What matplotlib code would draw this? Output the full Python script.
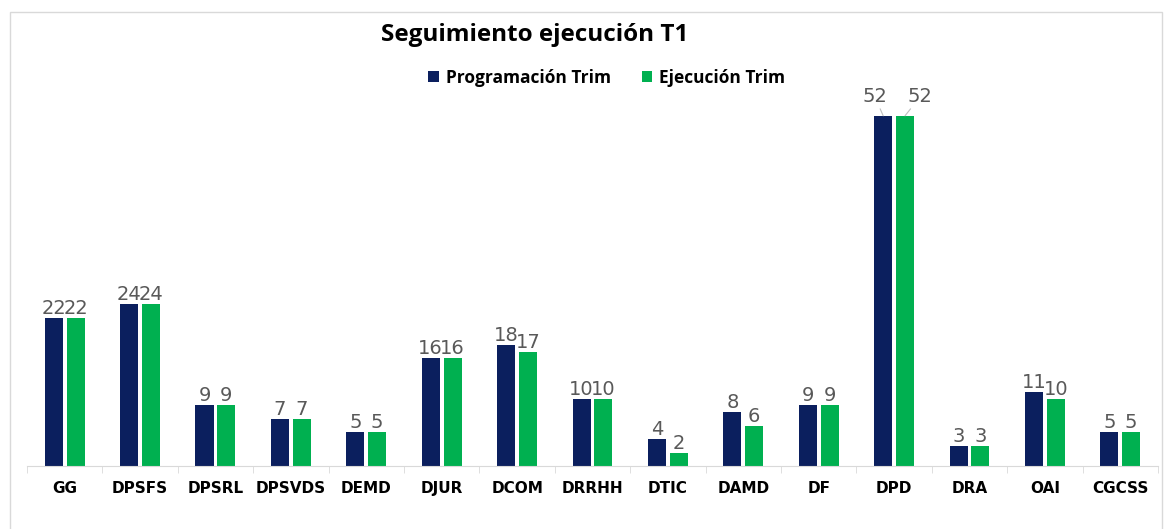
import numpy as np
import matplotlib.pyplot as plt
from matplotlib.patches import Rectangle

categories = ['GG', 'DPSFS', 'DPSRL', 'DPSVDS', 'DEMD', 'DJUR', 'DCOM', 'DRRHH',
              'DTIC', 'DAMD', 'DF', 'DPD', 'DRA', 'OAI', 'CGCSS']
programacion = [22, 24, 9, 7, 5, 16, 18, 10, 4, 8, 9, 52, 3, 11, 5]
ejecucion = [22, 24, 9, 7, 5, 16, 17, 10, 2, 6, 9, 52, 3, 10, 5]

navy = '#0b1f5e'
green = '#00b050'
label_gray = '#595959'

plt.rcParams['font.family'] = ['Open Sans', 'DejaVu Sans']

fig = plt.figure(figsize=(11.67, 5.29), dpi=100)
ax = fig.add_axes([0.0231, 0.119, 0.9692, 0.764])

# thin frame around the chart area
fig.patches.append(Rectangle((10 / 1167, -0.1), 1152 / 1167, 1.1 - 12 / 529,
                             transform=fig.transFigure, fill=False,
                             edgecolor='#d9d9d9', linewidth=1))

x = np.arange(len(categories))
w = 0.24
off = 0.145
b1 = ax.bar(x - off, programacion, w, color=navy, label='Programación Trim')
b2 = ax.bar(x + off, ejecucion, w, color=green, label='Ejecución Trim')

# value labels
for bars in (b1, b2):
    for rect in bars:
        h = rect.get_height()
        cx = rect.get_x() + rect.get_width() / 2
        if h >= 50:
            continue
        ax.annotate(f'{h:g}', (cx, h), xytext=(0, 0), textcoords='offset points',
                    ha='center', va='bottom', fontsize=14, color=label_gray,
                    family='DejaVu Sans')

# the tall DPD bars get labels pulled out with leader lines
i = categories.index('DPD')
for val, cx, dx in ((programacion[i], i - off, -6), (ejecucion[i], i + off, 11)):
    ax.annotate(f'{val:g}', (cx, val), xytext=(dx, 7), textcoords='offset points',
                ha='center', va='bottom', fontsize=14, color=label_gray,
                family='DejaVu Sans',
                arrowprops=dict(arrowstyle='-', color='#bfbfbf', lw=0.8,
                                shrinkA=0, shrinkB=0))

ax.set_xlim(-0.5, len(categories) - 0.5)
ax.set_ylim(0, 60)
ax.set_yticks([])
ax.set_xticks(x)
ax.set_xticklabels(categories, fontsize=11, fontweight='bold', family='DejaVu Sans')
ax.set_xticks(np.arange(-0.5, len(categories)), minor=True)
ax.tick_params(axis='x', which='major', length=0, pad=11)
ax.tick_params(axis='x', which='minor', length=5, color='#d9d9d9')
for s in ('top', 'right', 'left'):
    ax.spines[s].set_visible(False)
ax.spines['bottom'].set_color('#d9d9d9')

fig.text(0.458, 0.934, 'Seguimiento ejecución T1', ha='center', va='center',
         fontsize=17.5, fontweight='bold')

fig.legend(loc='center', bbox_to_anchor=(0.52, 0.853), ncol=2, frameon=False,
           prop={'weight': 'bold', 'size': 12.5}, handlelength=0.6, handleheight=0.6,
           columnspacing=1.8, handletextpad=0.4)

fig.savefig('out.png', dpi=100)
